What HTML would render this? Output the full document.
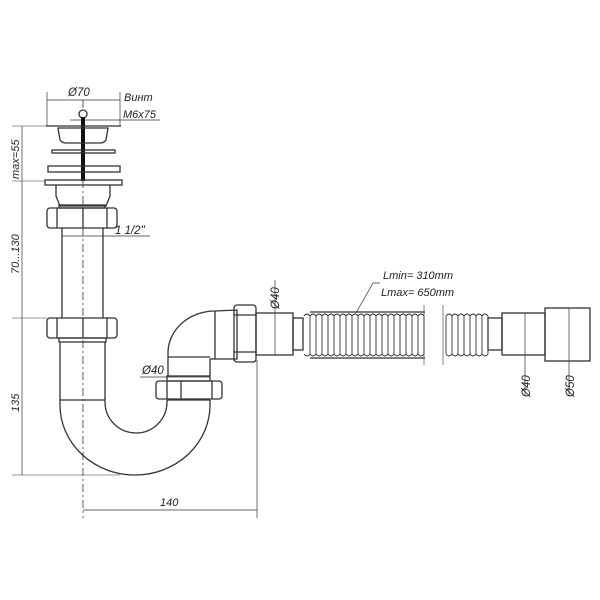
<!DOCTYPE html>
<html><head><style>body{margin:0;background:#fff}svg{display:block}text{font-family:"Liberation Sans",sans-serif;font-style:italic;fill:#222}</style></head>
<body>
<svg width="600" height="600" viewBox="0 0 600 600" xmlns="http://www.w3.org/2000/svg" fill="none" stroke="#333" stroke-width="1.3">
<line x1="83" y1="100" x2="83" y2="518" stroke-dasharray="8,3,2,3" stroke-width="0.8"/>
<line x1="47" y1="92" x2="47" y2="126" stroke-width="0.7"/><line x1="120" y1="92" x2="120" y2="126" stroke-width="0.7"/>
<line x1="47" y1="100" x2="120" y2="100" stroke-width="0.7"/>
<text x="68" y="96" font-size="11.5" stroke="none">Ø70</text>
<text x="124" y="101" font-size="11" stroke="none">Винт</text>
<text x="123" y="118" font-size="11" stroke="none">M6x75</text>
<line x1="70" y1="120" x2="160" y2="120" stroke-width="0.7"/>
<circle cx="83" cy="114" r="4" fill="#fff"/>
<rect x="81" y="117" width="4" height="64" fill="#111" stroke="none"/>
<line x1="46" y1="126" x2="121" y2="126"/>
<path d="M58 128 L108 128 L106 140 Q104 143 100 143 L66 143 Q62 143 60 140 Z"/>
<rect x="52" y="150" width="63" height="3"/>
<rect x="48" y="166" width="72" height="6"/>
<rect x="45" y="180" width="77" height="5"/>
<path d="M56 185 L56 196 L60 206 L106 206 L110 196 L110 185"/>
<rect x="47" y="208" width="70" height="20" rx="3"/>
<line x1="57" y1="208" x2="57" y2="228"/><line x1="107" y1="208" x2="107" y2="228"/><line x1="83" y1="208" x2="83" y2="228"/>
<rect x="59" y="205" width="46" height="3"/>
<line x1="62" y1="228" x2="62" y2="318"/><line x1="103" y1="228" x2="103" y2="318"/>
<line x1="62" y1="236" x2="150" y2="236" stroke-width="0.7"/>
<text x="115" y="234" font-size="11.5" stroke="none">1 1/2"</text>
<rect x="47" y="318" width="70" height="20" rx="3"/>
<line x1="57" y1="318" x2="57" y2="338"/><line x1="107" y1="318" x2="107" y2="338"/><line x1="83" y1="318" x2="83" y2="338"/>
<rect x="59" y="338" width="47" height="4"/>
<line x1="60" y1="342" x2="60" y2="400"/><line x1="105" y1="342" x2="105" y2="400"/>
<line x1="60" y1="400" x2="105" y2="400"/>
<path d="M60 400 L60 405 A75 70 0 0 0 210 405 L210 400"/>
<path d="M105 400 L105 402 A31 31 0 0 0 167 402 L167 400"/>
<line x1="167" y1="400" x2="210" y2="400"/>
<rect x="156" y="381" width="66" height="18" rx="3"/>
<line x1="167" y1="381" x2="167" y2="399"/><line x1="212" y1="381" x2="212" y2="399"/><line x1="181" y1="381" x2="181" y2="399"/>
<rect x="167" y="376" width="43" height="5"/>
<path d="M168 376 L168 352 A47 42 0 0 1 215 311 L237 310 L237 359 L210 359 L210 376"/>
<line x1="168" y1="357" x2="210" y2="357"/>
<line x1="215" y1="311" x2="215" y2="359"/>
<text x="142" y="374" font-size="11.5" stroke="none">Ø40</text>
<line x1="140" y1="377" x2="210" y2="377" stroke-width="0.7"/>
<rect x="234" y="305" width="22" height="57" rx="3"/>
<line x1="234" y1="315" x2="256" y2="315"/><line x1="234" y1="352" x2="256" y2="352"/>
<rect x="256" y="313" width="37" height="42"/>
<rect x="293" y="318" width="10" height="32"/>
<path d="M310 312 L425 312 M310 358 L425 358"/>
<g stroke-width="0.9">
<path d="M304 316 Q307 312 310 316 Q313 312 316 316 Q319 312 322 316 Q325 312 328 316 Q331 312 334 316 Q337 312 340 316 Q343 312 346 316 Q349 312 352 316 Q355 312 358 316 Q361 312 364 316 Q367 312 370 316 Q373 312 376 316 Q379 312 382 316 Q385 312 388 316 Q391 312 394 316 Q397 312 400 316 Q403 312 406 316 Q409 312 412 316 Q415 312 418 316 Q421 312 424 316"/>
<path d="M304 354 Q307 358 310 354 Q313 358 316 354 Q319 358 322 354 Q325 358 328 354 Q331 358 334 354 Q337 358 340 354 Q343 358 346 354 Q349 358 352 354 Q355 358 358 354 Q361 358 364 354 Q367 358 370 354 Q373 358 376 354 Q379 358 382 354 Q385 358 388 354 Q391 358 394 354 Q397 358 400 354 Q403 358 406 354 Q409 358 412 354 Q415 358 418 354 Q421 358 424 354"/>
<path d="M310 316 V354 M316 316 V354 M322 316 V354 M328 316 V354 M334 316 V354 M340 316 V354 M346 316 V354 M352 316 V354 M358 316 V354 M364 316 V354 M370 316 V354 M376 316 V354 M382 316 V354 M388 316 V354 M394 316 V354 M400 316 V354 M406 316 V354 M412 316 V354 M418 316 V354 M424 316 V354"/>
<path d="M446 316 Q449 312 452 316 Q455 312 458 316 Q461 312 464 316 Q467 312 470 316 Q473 312 476 316 Q479 312 482 316 Q485 312 488 316"/>
<path d="M446 354 Q449 358 452 354 Q455 358 458 354 Q461 358 464 354 Q467 358 470 354 Q473 358 476 354 Q479 358 482 354 Q485 358 488 354"/>
<path d="M446 316 V354 M452 316 V354 M458 316 V354 M464 316 V354 M470 316 V354 M476 316 V354 M482 316 V354 M488 316 V354"/>
</g>
<line x1="424" y1="305" x2="424" y2="365" stroke-width="0.6"/><line x1="443" y1="305" x2="443" y2="365" stroke-width="0.6"/>
<rect x="488" y="318" width="14" height="32"/>
<rect x="502" y="313" width="43" height="42"/>
<rect x="545" y="308" width="45" height="53"/>
<line x1="275" y1="280" x2="275" y2="355" stroke-width="0.7"/>
<text transform="translate(279,309) rotate(-90)" font-size="11.5" stroke="none">Ø40</text>
<line x1="525" y1="313" x2="525" y2="395" stroke-width="0.7"/>
<text transform="translate(530,397) rotate(-90)" font-size="11.5" stroke="none">Ø40</text>
<line x1="569" y1="308" x2="569" y2="395" stroke-width="0.7"/>
<text transform="translate(574,397) rotate(-90)" font-size="11.5" stroke="none">Ø50</text>
<text x="383" y="279" font-size="11" stroke="none">Lmin= 310mm</text>
<text x="381" y="296" font-size="11" stroke="none">Lmax= 650mm</text>
<path d="M380 283 L373 283 L356 313" stroke-width="0.7"/>
<line x1="22" y1="126" x2="22" y2="475" stroke-width="0.7"/>
<line x1="12" y1="126" x2="47" y2="126" stroke-width="0.6"/>
<line x1="12" y1="181" x2="45" y2="181" stroke-width="0.6"/>
<line x1="12" y1="318" x2="47" y2="318" stroke-width="0.6"/>
<line x1="12" y1="475" x2="120" y2="475" stroke-width="0.6"/>
<text transform="translate(19,179) rotate(-90)" font-size="11" stroke="none">max=55</text>
<text transform="translate(19,274) rotate(-90)" font-size="11" stroke="none">70...130</text>
<text transform="translate(19,412) rotate(-90)" font-size="11" stroke="none">135</text>
<line x1="257" y1="360" x2="257" y2="518" stroke-width="0.7"/>
<line x1="83" y1="510" x2="257" y2="510" stroke-width="0.7"/>
<text x="160" y="506" font-size="11" stroke="none">140</text>
</svg>
</body></html>
